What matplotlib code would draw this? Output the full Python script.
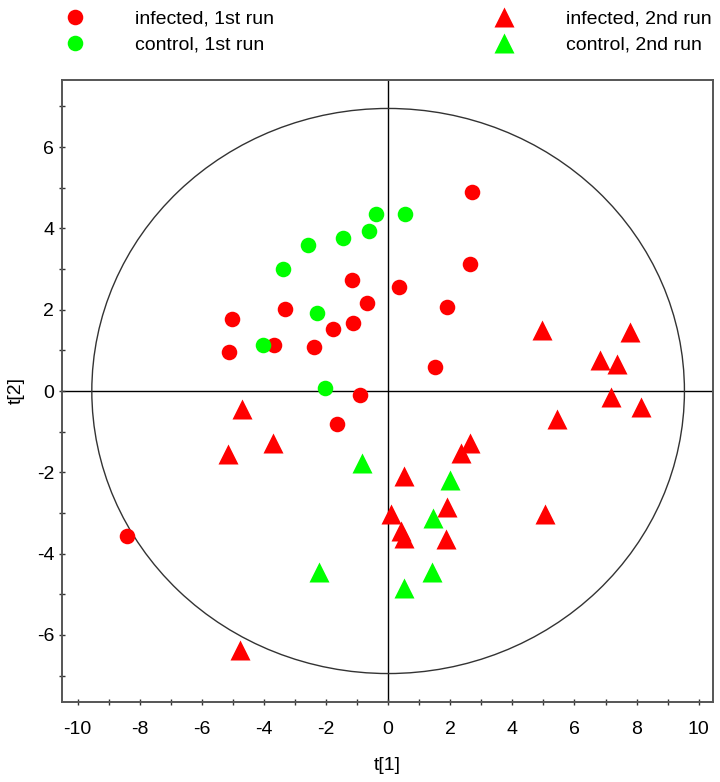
import matplotlib
matplotlib.use("Agg")
import matplotlib.pyplot as plt
from matplotlib.patches import Ellipse
from matplotlib.lines import Line2D
import numpy as np

plt.rcParams['font.family'] = ['Liberation Sans', 'DejaVu Sans']

# ---- data ----
inf1_x = [-1.17, 0.35, -0.69, -3.33, -5.02, -1.14, -1.78, -3.68, -2.39, -5.12,
          -0.89, -1.63, -8.41, 2.71, 2.65, 1.90, 1.51]
inf1_y = [2.73, 2.57, 2.16, 2.01, 1.78, 1.67, 1.52, 1.13, 1.09, 0.95,
          -0.11, -0.80, -3.56, 4.89, 3.12, 2.06, 0.60]

ctl1_x = [-0.39, 0.55, -0.60, -1.44, -2.58, -3.38, -2.29, -4.03, -2.03]
ctl1_y = [4.35, 4.36, 3.94, 3.76, 3.59, 3.00, 1.93, 1.13, 0.08]

inf2_x = [4.95, 7.79, 6.83, 7.38, 7.18, 8.14, 5.45, 2.65, 2.35, 0.50,
          1.90, 0.10, 5.05, 0.40, 0.50, 1.85, -4.71, -3.72, -5.17, -4.77]
inf2_y = [1.51, 1.45, 0.76, 0.67, -0.14, -0.39, -0.70, -1.27, -1.53, -2.10,
          -2.86, -3.02, -3.02, -3.45, -3.61, -3.63, -0.44, -1.28, -1.54, -6.37]

ctl2_x = [2.00, 1.46, 1.41, 0.51, -0.84, -2.23]
ctl2_y = [-2.19, -3.13, -4.45, -4.85, -1.77, -4.44]

series_labels = ["infected, 1st run", "control, 1st run",
                 "infected, 2nd run", "control, 2nd run"]
ellipse_rx, ellipse_ry = 9.54, 6.95
x_ticks = [-10, -8, -6, -4, -2, 0, 2, 4, 6, 8, 10]
y_ticks = [-6, -4, -2, 0, 2, 4, 6]

RED = '#FF0000'
GREEN = '#00FF00'

W, H = 720, 782
fig = plt.figure(figsize=(W / 100, H / 100), dpi=100)
ax = fig.add_axes([62 / W, 1 - 702 / H, (712.7 - 62) / W, (702 - 80) / H])

ax.set_xlim(-10.5, 10.45)
ax.set_ylim(-7.65, 7.65)

# reference lines and ellipse
ax.axhline(0, color='black', lw=1.0, zorder=1)
ax.axvline(0, color='black', lw=1.0, zorder=1)
ax.add_patch(Ellipse((0, 0), 2 * ellipse_rx, 2 * ellipse_ry, fill=False,
                     edgecolor='#333333', lw=1.0, zorder=1))

circ_ms = 11.2
tri_ms = 14.6
ax.plot(inf1_x, inf1_y, 'o', ms=circ_ms, color=RED, mec='none', zorder=3)
ax.plot(ctl1_x, ctl1_y, 'o', ms=circ_ms, color=GREEN, mec='none', zorder=3)
ax.plot(inf2_x, inf2_y, '^', ms=tri_ms, color=RED, mec='none', zorder=3)
ax.plot(ctl2_x, ctl2_y, '^', ms=tri_ms, color=GREEN, mec='none', zorder=3)

# ticks
ax.set_xticks(x_ticks)
ax.set_xticklabels([str(t) for t in x_ticks])
ax.set_yticks(y_ticks)
ax.set_yticklabels([str(t) for t in y_ticks])
ax.set_xticks(np.arange(-10, 11, 1), minor=True)
ax.set_yticks(np.arange(-7, 8, 1), minor=True)
ax.tick_params(axis='both', which='both', direction='inout', length=5,
               width=1.0, color='#333333', labelsize=14)
ax.tick_params(axis='x', which='major', pad=11)
ax.tick_params(axis='y', which='major', pad=3)

for sp in ax.spines.values():
    sp.set_color('#555555')
    sp.set_linewidth(1.4)

ax.set_xlabel('t[1]', fontsize=14)
ax.xaxis.set_label_coords(0.5, -(765 - 702) / (702 - 80))
ax.xaxis.label.set_va('center')
ax.set_ylabel('t[2]', fontsize=14)
ax.yaxis.set_label_coords(-(62 - 16) / (712.7 - 62), 0.5)
ax.yaxis.label.set_va('center')

# legends
h_inf1 = Line2D([], [], marker='o', ls='none', ms=circ_ms, color=RED, mec='none')
h_ctl1 = Line2D([], [], marker='o', ls='none', ms=circ_ms, color=GREEN, mec='none')
h_inf2 = Line2D([], [], marker='^', ls='none', ms=tri_ms, color=RED, mec='none')
h_ctl2 = Line2D([], [], marker='^', ls='none', ms=tri_ms, color=GREEN, mec='none')

fs_px = 14 * 100 / 72
hl = 2.0
for handles, labs, mx, tx in [([h_inf1, h_ctl1], series_labels[:2], 75, 135),
                              ([h_inf2, h_ctl2], series_labels[2:], 504, 566)]:
    left = mx - hl * fs_px / 2
    pad = (tx - (left + hl * fs_px)) / fs_px
    fig.legend(handles, labs, loc='center left',
               bbox_to_anchor=(left / W, 1 - 32 / H),
               frameon=False, fontsize=14, handlelength=hl,
               handletextpad=pad, borderpad=0, borderaxespad=0,
               labelspacing=0.42)

fig.savefig('out.png', dpi=100)
